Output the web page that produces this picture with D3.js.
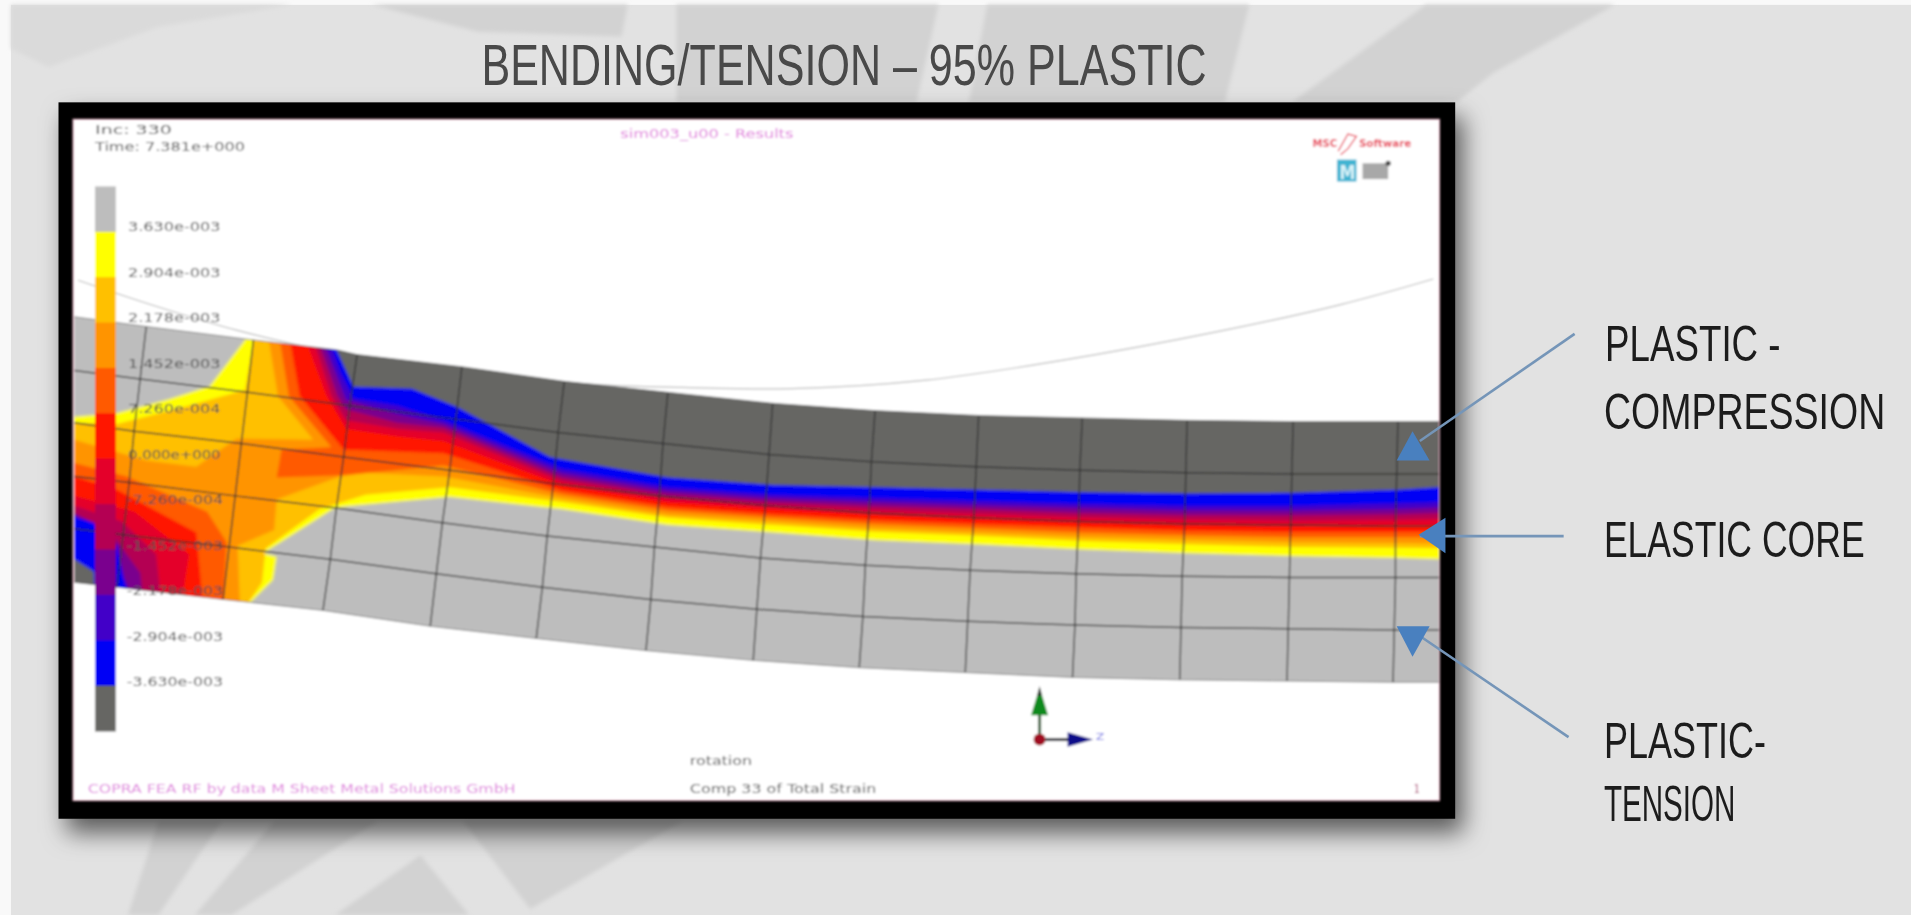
<!DOCTYPE html>
<html><head><meta charset="utf-8">
<style>html,body{margin:0;padding:0;background:#f9f9f9;overflow:hidden}svg{display:block}</style>
<script src="https://cdn.jsdelivr.net/npm/d3@7/dist/d3.min.js"></script>
</head><body><svg id="c" width="1911" height="915"></svg>
<script>
// values, in picture units
const levelLabels=["3.630e-003","2.904e-003","2.178e-003","1.452e-003","7.260e-004","0.000e+000","-7.260e-004","-1.452e-003","-2.178e-003","-2.904e-003","-3.630e-003"];
const levelColors=["#bdbdbd","#ffff00","#ffc000","#ff9400","#ff5a00","#ff1500","#e4002c","#b40052","#7a008e","#4200c8","#0000f5","#666664"];
const beamTop=[[61,260],[120,268],[208,279],[276,287],[293,291],[379,301],[463,313],[548,322],[634,331],[718,337],[803,341],[888,343],[974,345],[1061,346],[1147,346],[1181,346]];
const beamBottom=[[1181,560],[1143,560],[1056,559],[968,558],[880,556],[792,552],[705,548],[618,542],[530,534],[440,524],[353,514],[265,501],[183,492],[96,482],[61,478]];
const meshColumns=[
[[61,260],[61,304],[61,347],[61,391],[61,434],[61,478]],
[[120,268],[115,311],[110,354],[106,396],[101,439],[96,482]],
[[208,279],[203,322],[198,364],[193,407],[188,449],[183,492]],
[[293,291],[287,333],[282,375],[276,417],[271,459],[265,501]],
[[379,301],[374,344],[369,386],[363,429],[358,471],[353,514]],
[[463,313],[458,355],[454,397],[449,440],[445,482],[440,524]],
[[548,322],[544,364],[541,407],[537,449],[534,492],[530,534]],
[[634,331],[631,373],[628,415],[624,458],[621,500],[618,542]],
[[718,337],[715,379],[713,421],[710,464],[708,506],[705,548]],
[[803,341],[801,383],[799,425],[796,468],[794,510],[792,552]],
[[888,343],[886,386],[885,428],[883,471],[882,513],[880,556]],
[[974,345],[973,388],[972,430],[970,473],[969,515],[968,558]],
[[1061,346],[1060,389],[1059,431],[1058,474],[1057,516],[1056,559]],
[[1147,346],[1146,389],[1145,432],[1145,474],[1144,517],[1143,560]],
[[1181,346],[1181,389],[1181,432],[1181,474],[1181,517],[1181,560]]];
const dieLine=[[64,230],[130,252],[194,271],[268,288],[380,305],[480,315],[560,318],[650,319],[760,312],[870,296],[1000,272],[1100,250],[1176,229]];
const rightStations=[461,548,634,718,803,888,974,1061,1147,1181];
const yellowRight=[418,431,437,443.5,447,451,454,456.5,458,459];
const goldRight=[412,425,431,436.5,440,444,446.6,449,449.6,450];
const orangeRight=[409,422.4,428,433.5,437,440.7,443,445,445.7,446];
const darkOrangeRight=[405.7,419,425,430,433.5,437,439.3,441,441,441];
const redRight=[402.5,416,422,426.7,430,433,435.4,436.7,436.7,436.6];
const crimsonRight=[398,412,418,422.4,425.4,428.4,430.5,431.5,431,430.7];
const maroonRight=[395,409,415,419,422,424.7,426.6,427.4,426.6,426];
const purpleRight=[392,406,412,415.5,418,421,422.6,423,422,421];
const indigoRight=[388.5,403,409,412,414.6,417,418.7,419,417.7,416.5];
const blueRight=[385,400,406,408.6,411,413.4,415,415,413,412];
const darkGrayRight=[377,392,398,400,402,404,405,404.5,402,400];
const yellowLeft=[[[50,342],[61,342],[96,339],[137,328],[172,317],[201,279]],[[369,408],[281,416],[273,418],[216,454],[227,457],[224,476],[205,495],[205,520],[50,520]],null];
const goldLeft=[[[50,347],[61,347],[96,348],[140,337],[172,328],[201,320],[208,280]],[[369,400],[300,406],[262,418],[218,450],[215,478],[200,500],[50,500]],null];
const orangeLeft=[[[50,361],[61,361],[120,378],[161,383],[194,360],[257,361],[228,325],[221,282]],[[364,391],[300,388],[279,391],[227,410],[225,435],[195,448],[197,500],[50,500]],null];
const darkOrangeLeft=[[[231,369],[272,367],[237,325],[230,282]],[[364,382],[282,390],[227,392]],[[50,380],[61,380],[104,391],[170,420],[186,445],[183,500],[50,500]]];
const redLeft=[[[282,369],[246,325],[238,280]],[[364,372]],[[50,391],[61,391],[96,402],[161,437],[167,500],[50,500]]];
const crimsonLeft=[[[284,352],[268,325],[252,282]],[[364,362],[326,358]],[[50,407],[61,407],[110,420],[155,455],[148,500],[50,500]]];
const maroonLeft=[[[284,345],[272,325],[258,282]],[[364,355],[326,352]],[[50,415],[61,415],[100,428],[128,455],[133,500],[50,500]]];
const purpleLeft=[[[284,336],[277,325],[262,282]],[[364,351],[326,347]],[[50,421],[61,421],[90,436],[115,470],[118,500],[50,500]]];
const indigoLeft=[[[284,328],[280,318],[266,282]],[[364,348],[326,340]],[[50,423],[61,423],[85,442],[100,470],[112,500],[50,500]]];
const blueLeft=[[[290,327],[279,305],[271,282]],[[364,345],[326,333]],[[50,424],[61,424],[77,429],[96,448],[107,500],[50,500]]];
const darkGrayLeft=[[[338,319],[290,317.5],[276,287]],[[451,375],[375,334]],[[50,459],[61,459],[77,469],[79,500],[50,500]]];
const contourRight=[yellowRight,goldRight,orangeRight,darkOrangeRight,redRight,crimsonRight,maroonRight,purpleRight,indigoRight,blueRight,darkGrayRight];
const contourLeft=[yellowLeft,goldLeft,orangeLeft,darkOrangeLeft,redLeft,crimsonLeft,maroonLeft,purpleLeft,indigoLeft,blueLeft,darkGrayLeft];

const sx=d3.scaleLinear().domain([0,1568]).range([0,1911]);
const sy=d3.scaleLinear().domain([0,751]).range([0,915]);
const line=d3.line().x(d=>sx(d[0])).y(d=>sy(d[1]));
const smooth=d3.line().x(d=>sx(d[0])).y(d=>sy(d[1])).curve(d3.curveCatmullRom);
const poly=p=>line(p)+"Z";
const svg=d3.select("#c");
const defs=svg.append("defs");
const blur=(id,s)=>defs.append("filter").attr("id",id).attr("filterUnits","userSpaceOnUse").attr("x",0).attr("y",0).attr("width",1911).attr("height",915).append("feGaussianBlur").attr("stdDeviation",s);
blur("b1",0.9);blur("b2",0.45);blur("b3",2.2);blur("b4",1.0);
const sh=defs.append("filter").attr("id","shadow").attr("filterUnits","userSpaceOnUse").attr("x",0).attr("y",0).attr("width",1911).attr("height",915);
sh.append("feDropShadow").attr("dx",8).attr("dy",14).attr("stdDeviation",12).attr("flood-color","#000").attr("flood-opacity",0.6);
defs.append("clipPath").attr("id","beam").append("path").attr("d",poly(beamTop.concat(beamBottom)));
defs.append("clipPath").attr("id","plotArea").append("rect").attr("x",sx(60)).attr("y",sy(98)).attr("width",sx(1181)-sx(60)).attr("height",sy(657)-sy(98));

// slide background
svg.append("rect").attr("x",sx(9)).attr("y",sy(4)).attr("width",1911-sx(9)).attr("height",915-sy(4)).attr("fill","#e2e2e2");
const shards=[[[305,4],[515,4],[510,30],[392,26]],[[555,4],[770,4],[752,84],[555,84]],[[810,4],[1025,4],[1005,84],[795,84]],[[1170,4],[1325,4],[1225,60],[1195,84],[1060,84]],[[130,674],[182,674],[130,751],[105,751]],[[225,674],[310,674],[190,751],[160,751]],[[345,702],[385,751],[275,751]],[[380,674],[560,674],[435,746]]];
const shardsFaint=[[[9,40],[9,4],[240,4],[130,22],[40,55]]];
svg.append("g").attr("filter","url(#b3)").selectAll("path").data(shards).join("path").attr("d",poly).attr("fill","#d2d2d2");
svg.append("g").attr("filter","url(#b3)").selectAll("path").data(shardsFaint).join("path").attr("d",poly).attr("fill","#dadada");

// frame
svg.append("rect").attr("x",sx(48)).attr("y",sy(84)).attr("width",sx(1194)-sx(48)).attr("height",sy(672)-sy(84)).attr("fill","#000").attr("filter","url(#shadow)");

const plot=svg.append("g").attr("filter","url(#b1)");
plot.append("rect").attr("x",sx(60)).attr("y",sy(98)).attr("width",sx(1181)-sx(60)).attr("height",sy(657)-sy(98)).attr("fill","#fff").attr("stroke","#f0b8cc").attr("stroke-width",1.2);

const inner=plot.append("g").attr("clip-path","url(#plotArea)");
inner.append("path").attr("d",smooth(dieLine)).attr("fill","none").attr("stroke","#bdbdbd").attr("stroke-width",1.2);

const beam=inner.append("g").attr("clip-path","url(#beam)");
const contours=beam.append("g").attr("filter","url(#b4)");
contours.append("rect").attr("x",sx(50)).attr("y",sy(240)).attr("width",sx(1200)-sx(50)).attr("height",sy(580)-sy(240)).attr("fill",levelColors[0]);
contourRight.forEach((r,i)=>{
  const [head,tail,lower]=contourLeft[i];
  const right=rightStations.map((x,j)=>[x,r[j]]).reverse();
  const outline=head.concat([[head[head.length-1][0],200],[1200,200],[1200,r[r.length-1]]],right,tail);
  contours.append("path").attr("d",poly(outline)).attr("fill",levelColors[i+1]);
  if(lower) contours.append("path").attr("d",poly(lower)).attr("fill",levelColors[i+1]);
});
// mesh
const meshG=inner.append("g").attr("fill","none").attr("stroke","#2e2e2e").attr("stroke-opacity",0.8).attr("stroke-width",1.5);
meshColumns.slice(1,14).forEach(c=>meshG.append("path").attr("d",line(c)));
for(let r=1;r<5;r++) meshG.append("path").attr("d",line(meshColumns.map(c=>c[r])));
inner.append("path").attr("d",line(beamTop)).attr("fill","none").attr("stroke","#555").attr("stroke-width",1).attr("stroke-opacity",.6);
inner.append("path").attr("d",line(beamBottom)).attr("fill","none").attr("stroke","#555").attr("stroke-width",1).attr("stroke-opacity",.6);

// colour bar
const barY=d3.scaleLinear().domain([0,12]).range([153,600]);
const barH=d3.scaleLinear().domain([0,1]).range([0,sy(barY(1)-barY(0))]);
plot.append("g").selectAll("rect").data(levelColors).join("rect")
 .attr("x",sx(78)).attr("width",sx(95)-sx(78)).attr("y",(d,i)=>sy(barY(i))).attr("height",barH(1)+.5).attr("fill",d=>d);
const tickY=d3.scaleLinear().domain([0,10]).range([186,559]);
const txt=(g,t,x0,x1,y,size,fill,w)=>g.append("text").text(t).attr("x",sx(x0)).attr("y",sy(y)).attr("font-family","'DejaVu Sans',sans-serif").attr("font-size",size).attr("font-weight",w||"normal").attr("fill",fill).attr("textLength",sx(x1)-sx(x0)).attr("lengthAdjust","spacingAndGlyphs");
levelLabels.forEach((l,i)=>{const neg=l[0]==="-";txt(plot,l,neg?104:105,neg?183:181,tickY(i)+4,13,"#4e4e4e");});
txt(plot,"Inc:  330",78,141,110,13,"#4e4e4e");
txt(plot,"Time:  7.381e+000",78,201,124,13,"#4e4e4e");
txt(plot,"sim003_u00 - Results",509,651,113,13,"#e077dc");
txt(plot,"COPRA FEA RF by data M Sheet Metal Solutions GmbH",72,423,651,13,"#df80dd");
txt(plot,"rotation",566,617,628,13,"#555");
txt(plot,"Comp 33 of Total Strain",566,719,651,13,"#555");
txt(plot,"1",1160,1165,651,13,"#a8406f");

// vendor mark
txt(plot,"MSC",1077,1097,121,11,"#e8475a","bold");
txt(plot,"Software",1115,1158,121,11,"#e8475a","bold");
plot.append("path").attr("d",line([[1098,124],[1106,110],[1113,112],[1106,122],[1100,127]])).attr("fill","none").attr("stroke","#e8475a").attr("stroke-width",1.3);
plot.append("rect").attr("x",sx(1097)).attr("y",sy(131)).attr("width",sx(1113)-sx(1097)).attr("height",sy(149)-sy(131)).attr("fill","#41b4d2");
txt(plot,"M",1099,1112,147,19,"#d8f2f8","bold");
plot.append("rect").attr("x",sx(1118)).attr("y",sy(134)).attr("width",sx(1139)-sx(1118)).attr("height",sy(147)-sy(134)).attr("fill","#a8a8a8");
plot.append("circle").attr("cx",sx(1139)).attr("cy",sy(134)).attr("r",2.6).attr("fill","#444");

// axis triad
plot.append("path").attr("d",line([[853,607],[853,585]])).attr("stroke","#2a5a2a").attr("stroke-width",3);
plot.append("path").attr("d",poly([[853,564],[860,587],[846,587]])).attr("fill","#0a8a1e");
plot.append("path").attr("d",poly([[853,563],[855,571],[851,571]])).attr("fill","#303030");
plot.append("path").attr("d",line([[853,607],[878,607]])).attr("stroke","#1a1a2a").attr("stroke-width",3);
plot.append("path").attr("d",poly([[897,607],[876,601],[876,613]])).attr("fill","#10108a");
plot.append("circle").attr("cx",sx(853)).attr("cy",sy(607)).attr("r",6).attr("fill","#a01020");
txt(plot,"z",899,906,607,13,"#7a7ae6");

// callouts
const callG=svg.append("g").attr("filter","url(#b2)");
const arrows=[[[1292,274],[1165,362]],[[1283,440],[1165,440]],[[1287,605],[1165,522]]];
const heads=[[[1159,354],[1173,378],[1146,378]],[[1164,439],[1186,425],[1186,454]],[[1159,539],[1146,514],[1173,514]]];
callG.selectAll(".ln").data(arrows).join("path").attr("class","ln").attr("d",line).attr("stroke","#7495b8").attr("stroke-width",2.6).attr("fill","none");
callG.selectAll(".hd").data(heads).join("path").attr("class","hd").attr("d",poly).attr("fill","#4a80bf");

// big text: squeezed horizontally by a transform so its real box matches the picture
const txtB=(t,x0,x1,y,size,fill)=>{
  const el=callG.append("text").text(t).attr("font-family","'Liberation Sans Narrow','Liberation Sans',sans-serif").attr("font-size",size).attr("fill",fill);
  const k=(sx(x1)-sx(x0))/el.node().getComputedTextLength();
  el.attr("transform",`translate(${sx(x0)},${sy(y)}) scale(${k},1)`);
};
txtB("BENDING/TENSION – 95% PLASTIC",395,990,70,58,"#484848");
txtB("PLASTIC -",1317,1461,296,50,"#1c1c1c");
txtB("COMPRESSION",1316,1547,352,50,"#1c1c1c");
txtB("ELASTIC CORE",1316,1530,457,50,"#1c1c1c");
txtB("PLASTIC-",1316,1449,622,50,"#1c1c1c");
txtB("TENSION",1316,1424,674,50,"#1c1c1c");
</script></body></html>
